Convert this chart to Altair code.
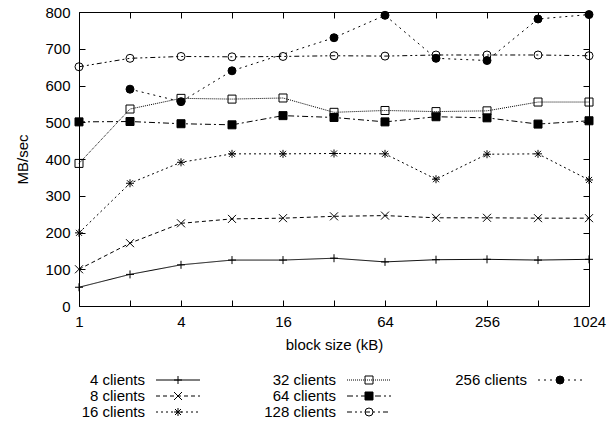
import altair as alt
import pandas as pd

# Block sizes (kB) on the x axis
block_kb = [1, 2, 4, 8, 16, 32, 64, 128, 256, 512, 1024]

series_names = ["4 clients", "8 clients", "16 clients", "32 clients",
                "64 clients", "128 clients", "256 clients"]

# Throughput (MB/sec) per client count; None = not measured
tp_4 = [51, 86, 112, 125, 125, 130, 120, 126, 127, 125, 127]
tp_8 = [100, 171, 225, 237, 239, 244, 246, 240, 240, 239, 239]
tp_16 = [199, 334, 391, 414, 414, 415, 414, 345, 413, 414, 343]
tp_32 = [388, 536, 565, 563, 566, 527, 532, 529, 531, 555, 555]
tp_64 = [501, 502, 496, 493, 518, 513, 501, 515, 512, 495, 504]
tp_128 = [651, 674, 679, 678, 679, 681, 680, 683, 683, 683, 681]
tp_256 = [None, 590, 556, 640, None, 730, 791, 674, 668, 781, 793]

y_ticks = [0, 100, 200, 300, 400, 500, 600, 700, 800]

series_values = [tp_4, tp_8, tp_16, tp_32, tp_64, tp_128, tp_256]
rows = []
for name, vals in zip(series_names, series_values):
    for b, v in zip(block_kb, vals):
        if v is not None:  # unmeasured points are skipped, the line joins across them
            rows.append({"series": name, "block": b, "mbps": v})
df = pd.DataFrame(rows)

FONT = "Liberation Sans"
FS = 15

# gnuplot-like line and point styles
dash_range = [[1, 0], [4, 3], [2, 3], [1, 1], [6, 3, 2, 3], [5, 3, 2, 3, 2, 3], [2, 4]]
PLUS = "M-1,0L1,0M0,-1L0,1"
CROSS = "M-1,-1L1,1M-1,1L1,-1"
STAR = "M-1,0L1,0M0,-1L0,1M-0.75,-0.75L0.75,0.75M-0.75,0.75L0.75,-0.75"
shape_range = [PLUS, CROSS, STAR, "square", "square", "circle", "circle"]
fill_range = ["transparent", "transparent", "transparent", "transparent",
              "black", "transparent", "black"]

dash_enc = alt.StrokeDash("series:N", scale=alt.Scale(domain=series_names, range=dash_range), legend=None)
shape_enc = alt.Shape("series:N", scale=alt.Scale(domain=series_names, range=shape_range), legend=None)
fill_enc = alt.Fill("series:N", scale=alt.Scale(domain=series_names, range=fill_range), legend=None)

x_scale = alt.Scale(type="log", base=2, domain=[1, 1024], nice=False)
y_scale = alt.Scale(domain=[0, 800], nice=False, zero=True)

label_expr = "indexof([1,4,16,64,256,1024], datum.value) >= 0 ? datum.label : ''"

lines = alt.Chart(df).mark_line(color="black", strokeWidth=1).encode(
    x=alt.X("block:Q", scale=x_scale,
            axis=alt.Axis(orient="bottom", values=block_kb, format="d", labelExpr=label_expr,
                          labelFlush=False, tickSize=6, offset=-6, domain=False, grid=False,
                          tickColor="black", labelPadding=8, title="block size (kB)",
                          titlePadding=8, labelFont=FONT, labelFontSize=FS, titleFont=FONT,
                          titleFontSize=FS, titleFontWeight="normal", labelColor="black",
                          titleColor="black")),
    y=alt.Y("mbps:Q", scale=y_scale,
            axis=alt.Axis(orient="left", values=y_ticks, labelFlush=False, tickSize=6, offset=-6,
                          domain=False, grid=False, tickColor="black", labelPadding=9,
                          title="MB/sec", titlePadding=14, labelFont=FONT, labelFontSize=FS,
                          titleFont=FONT, titleFontSize=FS, titleFontWeight="normal",
                          labelColor="black", titleColor="black")),
    detail="series:N",
    strokeDash=dash_enc,
)

points = alt.Chart(df).mark_point(color="black", strokeWidth=1, size=64, opacity=1).encode(
    x=alt.X("block:Q", scale=x_scale,
            axis=alt.Axis(orient="top", values=block_kb, labels=False, tickSize=6, offset=-6,
                          domain=False, grid=False, tickColor="black", title=None)),
    y=alt.Y("mbps:Q", scale=y_scale,
            axis=alt.Axis(orient="right", values=y_ticks, labels=False, tickSize=6, offset=-6,
                          domain=False, grid=False, tickColor="black", title=None)),
    shape=shape_enc,
    fill=fill_enc,
)

main = alt.layer(lines, points).resolve_axis(x="independent", y="independent").properties(
    width=510, height=294,
    view=alt.ViewBackground(stroke="black", strokeWidth=1),
)

# Key below the plot: three columns, label on the left of each sample
key_df = pd.DataFrame({
    "series": series_names,
    "col": [i // 3 for i in range(len(series_names))],
    "row": [i % 3 for i in range(len(series_names))],
})
kx = alt.X("col:Q", scale=alt.Scale(domain=[0, 510 / 191], nice=False, zero=True), axis=None)
ky = alt.Y("row:Q", scale=alt.Scale(domain=[0, 2], nice=False, reverse=True), axis=None)

key_text = alt.Chart(key_df).mark_text(align="right", baseline="middle", dx=66,
                                       font=FONT, fontSize=FS, color="black").encode(
    x=kx, y=ky, text="series:N")
key_line = alt.Chart(key_df).mark_rule(color="black", strokeWidth=1, xOffset=77, x2Offset=121).encode(
    x=kx, x2="col:Q", y=ky, strokeDash=dash_enc)
key_pt = alt.Chart(key_df).mark_point(color="black", strokeWidth=1, size=64, opacity=1, xOffset=99).encode(
    x=kx, y=ky, shape=shape_enc, fill=fill_enc)

key = alt.layer(key_line, key_pt, key_text).properties(
    width=510, height=32,
    view=alt.ViewBackground(stroke="transparent"),
)

chart = alt.vconcat(main, key, spacing=19).properties(
    padding={"left": 15, "top": 4, "right": 0, "bottom": 0},
).configure(background="white")

chart.save("out.html", embed_options={"renderer": "svg", "actions": False})
